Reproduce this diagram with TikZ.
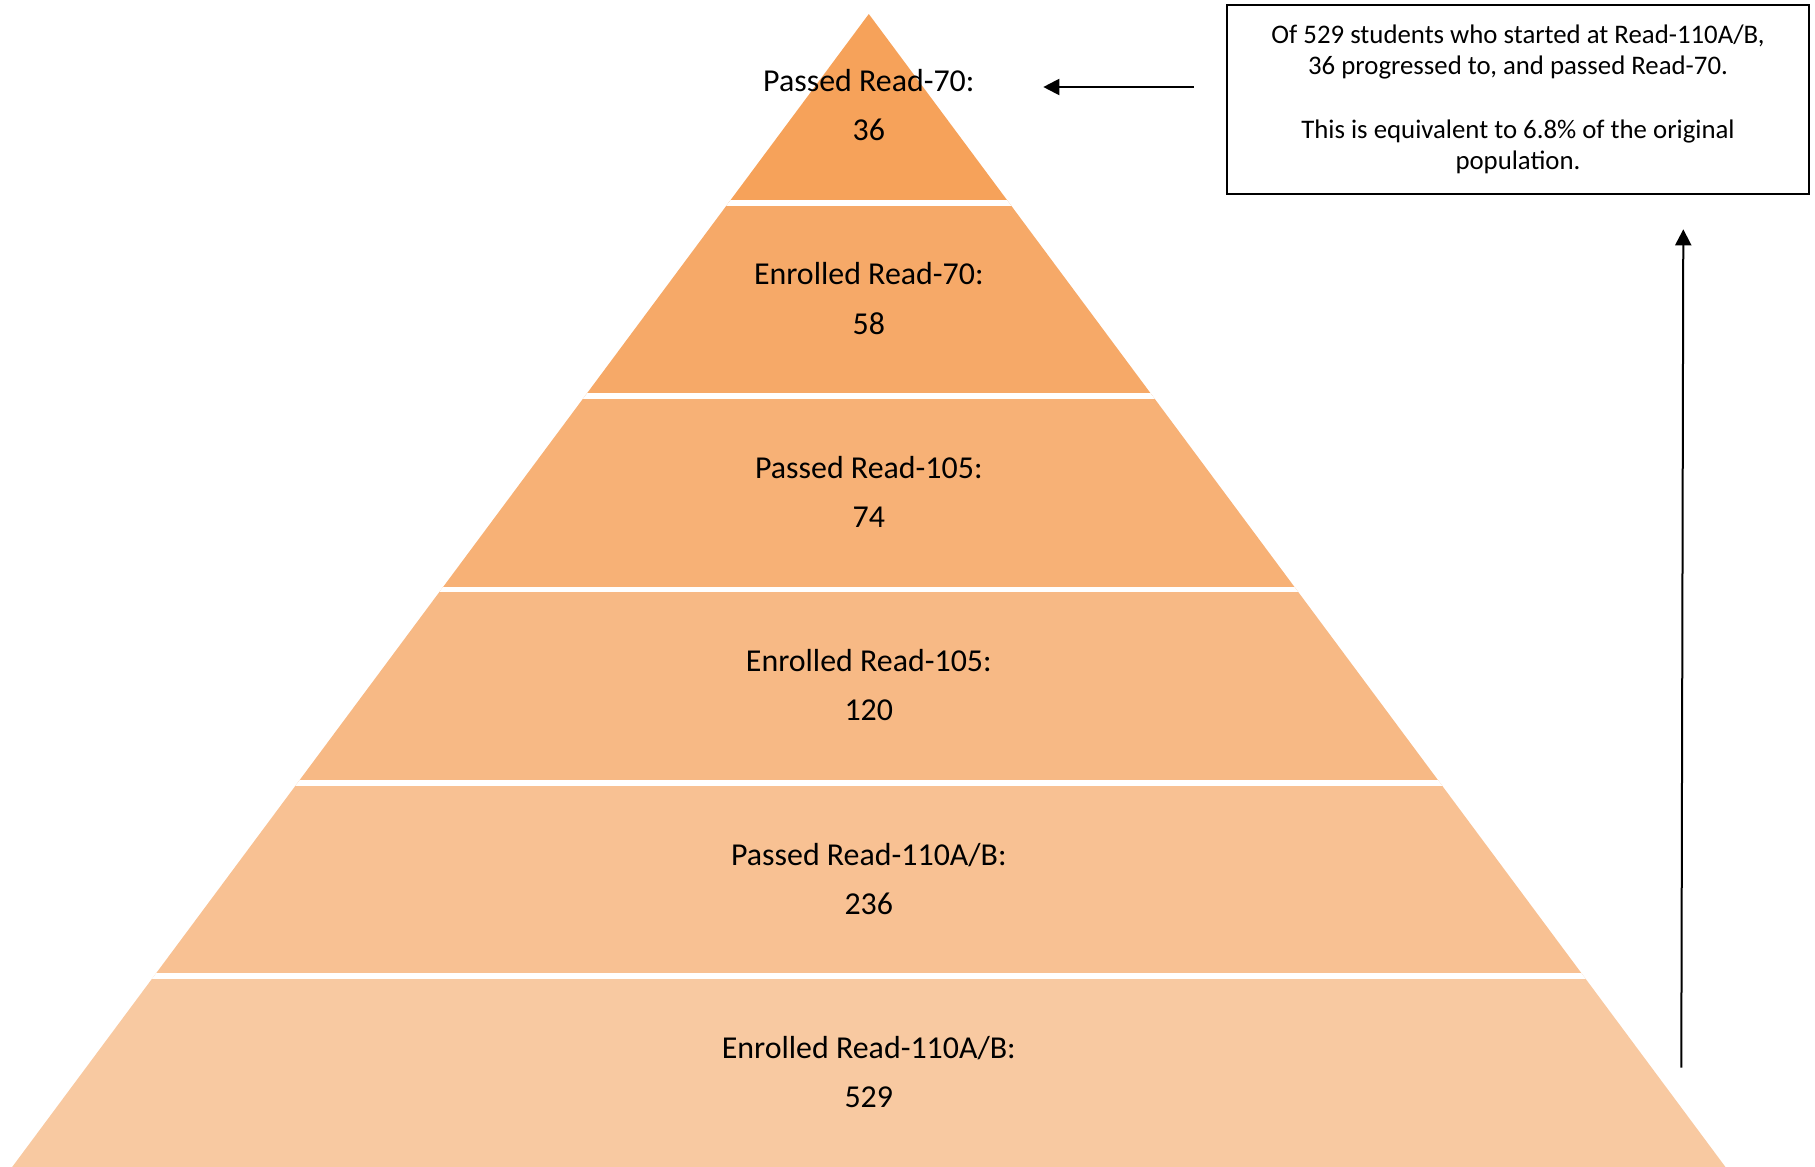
\documentclass[tikz,border=0pt]{standalone}
\usepackage{fontspec}
\setmainfont{Carlito}
\usetikzlibrary{arrows.meta}
\definecolor{lay1}{RGB}{246,162,90}
\definecolor{lay2}{RGB}{246,169,104}
\definecolor{lay3}{RGB}{247,177,118}
\definecolor{lay4}{RGB}{247,185,133}
\definecolor{lay5}{RGB}{248,193,147}
\definecolor{lay6}{RGB}{248,201,161}
\begin{document}
\begin{tikzpicture}[x=1pt,y=-1pt,
  lbl/.style={anchor=base,inner sep=0pt,font=\fontsize{31.9}{38}\selectfont},
  note/.style={draw=black,line width=2pt,minimum width=582pt,minimum height=189.6pt,
    align=center,inner sep=0pt,font=\fontsize{26.8}{31.7}\selectfont},
  arr/.style={line width=2pt,-{Triangle[length=16pt,width=16pt]}}]
\useasboundingbox (0,0) rectangle (1815,1167);
% pyramid
\begin{scope}
\clip (868.8,14) -- (2.5,1180) -- (1735.1,1180) -- cycle;
\fill[lay1] (0,0) rectangle (1815,202.9);
\fill[lay2] (0,202.9) rectangle (1815,396.2);
\fill[lay3] (0,396.2) rectangle (1815,589.5);
\fill[lay4] (0,589.5) rectangle (1815,782.8);
\fill[lay5] (0,782.8) rectangle (1815,976.1);
\fill[lay6] (0,976.1) rectangle (1815,1180);
\foreach \g in {202.9,396.2,589.5,782.8,976.1}
  \draw[white,line width=5.7pt] (0,\g) -- (1815,\g);
\end{scope}
% labels
\node[lbl] (t1) at (868.8,91.5) {Passed Read-70:};
\node[lbl] (n1) at (868.8,140.6) {36};
\node[lbl] (t2) at (868.8,284.9) {Enrolled Read-70:};
\node[lbl] (n2) at (868.8,334.0) {58};
\node[lbl] (t3) at (868.8,478.3) {Passed Read-105:};
\node[lbl] (n3) at (868.8,527.4) {74};
\node[lbl] (t4) at (868.8,671.7) {Enrolled Read-105:};
\node[lbl] (n4) at (868.8,720.8) {120};
\node[lbl] (t5) at (868.8,865.1) {Passed Read-110A/B:};
\node[lbl] (n5) at (868.8,914.2) {236};
\node[lbl] (t6) at (868.8,1058.5) {Enrolled Read-110A/B:};
\node[lbl] (n6) at (868.8,1107.6) {529};
% note box
\node[note] (box) at (1518,99.4) {Of 529 students who started at Read-110A/B,\\
36 progressed to, and passed Read-70.\\[31.7pt]
This is equivalent to 6.8\% of the original\\
population.};
% arrows
\coordinate (a1s) at (1193.5,87);
\coordinate (a1e) at (1043.3,87);
\coordinate (a2s) at (1681.3,1067.7);
\coordinate (a2e) at (1683.3,229.3);
\draw[arr] (a1s) -- (a1e);
\draw[arr] (a2s) -- (a2e);
\end{tikzpicture}
\end{document}
